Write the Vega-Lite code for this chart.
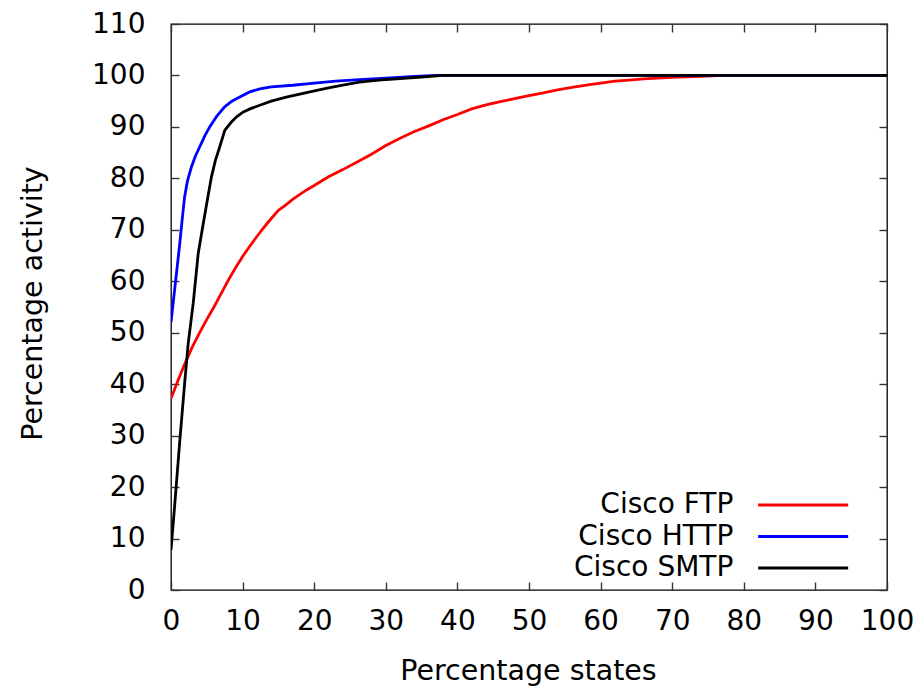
{
  "$schema": "https://vega.github.io/schema/vega-lite/v6.json",
  "width": 716,
  "height": 566,
  "autosize": "none",
  "padding": {"left": 171, "top": 24, "right": 36, "bottom": 96},
  "background": "white",
  "config": {
    "view": {"stroke": "#000000", "strokeWidth": 1.3},
    "font": "DejaVu Sans",
    "axis": {
      "labelFont": "DejaVu Sans",
      "labelFontSize": 28,
      "labelColor": "#000000",
      "labelFlush": false,
      "labelOverlap": false,
      "titleFont": "DejaVu Sans",
      "titleFontSize": 28.5,
      "titleFontWeight": "normal",
      "titleColor": "#000000",
      "domain": false,
      "grid": false,
      "tickColor": "#333333",
      "tickWidth": 1.4,
      "tickSize": 8
    },
    "legend": {
      "labelFont": "DejaVu Sans",
      "labelFontSize": 28,
      "labelColor": "#000000"
    }
  },
  "datasets": {
    "curves": [
      {"series": "Cisco FTP", "x": 0, "y": 37.2},
      {"series": "Cisco FTP", "x": 1, "y": 40.8},
      {"series": "Cisco FTP", "x": 2, "y": 44.2},
      {"series": "Cisco FTP", "x": 3, "y": 47.3},
      {"series": "Cisco FTP", "x": 4, "y": 50.0},
      {"series": "Cisco FTP", "x": 5, "y": 52.6},
      {"series": "Cisco FTP", "x": 6, "y": 55.0},
      {"series": "Cisco FTP", "x": 7, "y": 57.6},
      {"series": "Cisco FTP", "x": 8, "y": 60.2},
      {"series": "Cisco FTP", "x": 9, "y": 62.6},
      {"series": "Cisco FTP", "x": 10, "y": 64.8},
      {"series": "Cisco FTP", "x": 11, "y": 66.8},
      {"series": "Cisco FTP", "x": 12, "y": 68.7},
      {"series": "Cisco FTP", "x": 13, "y": 70.5},
      {"series": "Cisco FTP", "x": 14, "y": 72.2},
      {"series": "Cisco FTP", "x": 15, "y": 73.8},
      {"series": "Cisco FTP", "x": 16, "y": 74.8},
      {"series": "Cisco FTP", "x": 17, "y": 75.9},
      {"series": "Cisco FTP", "x": 18, "y": 76.9},
      {"series": "Cisco FTP", "x": 19, "y": 77.8},
      {"series": "Cisco FTP", "x": 20, "y": 78.6},
      {"series": "Cisco FTP", "x": 22, "y": 80.3},
      {"series": "Cisco FTP", "x": 24, "y": 81.7},
      {"series": "Cisco FTP", "x": 26, "y": 83.2},
      {"series": "Cisco FTP", "x": 28, "y": 84.7},
      {"series": "Cisco FTP", "x": 30, "y": 86.4},
      {"series": "Cisco FTP", "x": 32, "y": 87.8},
      {"series": "Cisco FTP", "x": 34, "y": 89.1},
      {"series": "Cisco FTP", "x": 36, "y": 90.2},
      {"series": "Cisco FTP", "x": 38, "y": 91.4},
      {"series": "Cisco FTP", "x": 40, "y": 92.4},
      {"series": "Cisco FTP", "x": 42, "y": 93.5},
      {"series": "Cisco FTP", "x": 44, "y": 94.3},
      {"series": "Cisco FTP", "x": 46, "y": 94.9},
      {"series": "Cisco FTP", "x": 48, "y": 95.5},
      {"series": "Cisco FTP", "x": 50, "y": 96.1},
      {"series": "Cisco FTP", "x": 52, "y": 96.6},
      {"series": "Cisco FTP", "x": 54, "y": 97.2},
      {"series": "Cisco FTP", "x": 56, "y": 97.7},
      {"series": "Cisco FTP", "x": 58, "y": 98.1},
      {"series": "Cisco FTP", "x": 60, "y": 98.5},
      {"series": "Cisco FTP", "x": 62, "y": 98.9},
      {"series": "Cisco FTP", "x": 64, "y": 99.1},
      {"series": "Cisco FTP", "x": 66, "y": 99.35},
      {"series": "Cisco FTP", "x": 68, "y": 99.5},
      {"series": "Cisco FTP", "x": 70, "y": 99.65},
      {"series": "Cisco FTP", "x": 72, "y": 99.75},
      {"series": "Cisco FTP", "x": 74, "y": 99.85},
      {"series": "Cisco FTP", "x": 77, "y": 100},
      {"series": "Cisco FTP", "x": 100, "y": 100},

      {"series": "Cisco HTTP", "x": 0, "y": 52},
      {"series": "Cisco HTTP", "x": 0.4, "y": 57},
      {"series": "Cisco HTTP", "x": 0.8, "y": 62},
      {"series": "Cisco HTTP", "x": 1.2, "y": 67},
      {"series": "Cisco HTTP", "x": 1.6, "y": 72.5},
      {"series": "Cisco HTTP", "x": 1.9, "y": 76.4},
      {"series": "Cisco HTTP", "x": 2.3, "y": 79.5},
      {"series": "Cisco HTTP", "x": 2.85, "y": 82.2},
      {"series": "Cisco HTTP", "x": 3.4, "y": 84.3},
      {"series": "Cisco HTTP", "x": 4.0, "y": 86.1},
      {"series": "Cisco HTTP", "x": 4.7, "y": 88.2},
      {"series": "Cisco HTTP", "x": 5.4, "y": 90.0},
      {"series": "Cisco HTTP", "x": 6.4, "y": 92.1},
      {"series": "Cisco HTTP", "x": 7.5, "y": 93.9},
      {"series": "Cisco HTTP", "x": 8.5, "y": 95.0},
      {"series": "Cisco HTTP", "x": 9.6, "y": 95.8},
      {"series": "Cisco HTTP", "x": 11, "y": 96.8},
      {"series": "Cisco HTTP", "x": 12.4, "y": 97.4},
      {"series": "Cisco HTTP", "x": 14, "y": 97.8},
      {"series": "Cisco HTTP", "x": 17, "y": 98.1},
      {"series": "Cisco HTTP", "x": 20, "y": 98.5},
      {"series": "Cisco HTTP", "x": 23, "y": 98.9},
      {"series": "Cisco HTTP", "x": 26.3, "y": 99.2},
      {"series": "Cisco HTTP", "x": 30, "y": 99.5},
      {"series": "Cisco HTTP", "x": 34, "y": 99.8},
      {"series": "Cisco HTTP", "x": 37, "y": 100},
      {"series": "Cisco HTTP", "x": 100, "y": 100},

      {"series": "Cisco SMTP", "x": 0, "y": 7.8},
      {"series": "Cisco SMTP", "x": 0.5, "y": 16.2},
      {"series": "Cisco SMTP", "x": 1.2, "y": 28.5},
      {"series": "Cisco SMTP", "x": 1.9, "y": 40.1},
      {"series": "Cisco SMTP", "x": 2.4, "y": 47.9},
      {"series": "Cisco SMTP", "x": 3.1, "y": 55.7},
      {"series": "Cisco SMTP", "x": 3.8, "y": 65.4},
      {"series": "Cisco SMTP", "x": 4.5, "y": 71.2},
      {"series": "Cisco SMTP", "x": 5.1, "y": 76.0},
      {"series": "Cisco SMTP", "x": 5.65, "y": 80.3},
      {"series": "Cisco SMTP", "x": 6.2, "y": 83.5},
      {"series": "Cisco SMTP", "x": 6.8, "y": 86.1},
      {"series": "Cisco SMTP", "x": 7.5, "y": 89.3},
      {"series": "Cisco SMTP", "x": 8.4, "y": 90.9},
      {"series": "Cisco SMTP", "x": 9.2, "y": 92.0},
      {"series": "Cisco SMTP", "x": 10.1, "y": 92.9},
      {"series": "Cisco SMTP", "x": 11.2, "y": 93.6},
      {"series": "Cisco SMTP", "x": 12.4, "y": 94.2},
      {"series": "Cisco SMTP", "x": 14, "y": 95.0},
      {"series": "Cisco SMTP", "x": 16.1, "y": 95.8},
      {"series": "Cisco SMTP", "x": 19.4, "y": 96.8},
      {"series": "Cisco SMTP", "x": 22, "y": 97.6},
      {"series": "Cisco SMTP", "x": 24, "y": 98.1},
      {"series": "Cisco SMTP", "x": 26.3, "y": 98.7},
      {"series": "Cisco SMTP", "x": 29, "y": 99.1},
      {"series": "Cisco SMTP", "x": 32, "y": 99.4},
      {"series": "Cisco SMTP", "x": 35, "y": 99.7},
      {"series": "Cisco SMTP", "x": 38, "y": 100},
      {"series": "Cisco SMTP", "x": 100, "y": 100}
    ]
  },
  "data": {"name": "curves"},
  "layer": [
    {
      "mark": {"type": "line", "opacity": 0},
      "encoding": {
        "x": {"field": "x", "type": "quantitative",
              "scale": {"domain": [0, 100], "nice": false, "zero": false},
              "axis": {"orient": "top", "labels": false, "title": null, "offset": -8, "values": [0,10,20,30,40,50,60,70,80,90,100]}},
        "y": {"field": "y", "type": "quantitative",
              "scale": {"domain": [0, 110], "nice": false, "zero": false},
              "axis": {"orient": "right", "labels": false, "title": null, "offset": -8, "values": [0,10,20,30,40,50,60,70,80,90,100,110]}},
        "detail": {"field": "series"}
      }
    },
    {
      "mark": {"type": "line", "opacity": 0},
      "encoding": {
        "x": {"field": "x", "type": "quantitative",
              "scale": {"domain": [0, 100], "nice": false, "zero": false},
              "axis": {"orient": "bottom", "labels": false, "title": null, "offset": -8, "values": [0,10,20,30,40,50,60,70,80,90,100]}},
        "y": {"field": "y", "type": "quantitative",
              "scale": {"domain": [0, 110], "nice": false, "zero": false},
              "axis": {"orient": "left", "labels": false, "title": null, "offset": -8, "values": [0,10,20,30,40,50,60,70,80,90,100,110]}},
        "detail": {"field": "series"}
      }
    },
    {
      "mark": {"type": "line", "strokeWidth": 2.8, "clip": true},
      "encoding": {
        "x": {"field": "x", "type": "quantitative",
              "scale": {"domain": [0, 100], "nice": false, "zero": false},
              "axis": {"orient": "bottom", "title": "Percentage states", "values": [0,10,20,30,40,50,60,70,80,90,100],
                       "ticks": false, "tickSize": 0, "offset": 0,
                       "labelPadding": 17, "titleX": 357, "titleY": 89, "titleBaseline": "alphabetic", "titleAlign": "center"}},
        "y": {"field": "y", "type": "quantitative",
              "scale": {"domain": [0, 110], "nice": false, "zero": false},
              "axis": {"orient": "left", "title": "Percentage activity", "values": [0,10,20,30,40,50,60,70,80,90,100,110],
                       "ticks": false, "tickSize": 0, "offset": 0,
                       "labelPadding": 26, "titleX": -139, "titleY": 279, "titleAngle": -90, "titleBaseline": "middle", "titleAlign": "center"}},
        "color": {"field": "series", "type": "nominal",
                  "scale": {"domain": ["Cisco FTP", "Cisco HTTP", "Cisco SMTP"], "range": ["#ff0000", "#0000ff", "#000000"]},
                  "legend": {"title": null, "orient": "none", "legendX": 615.65, "legendY": 464.5,
                             "symbolType": "M-3,0H3", "symbolSize": 900, "symbolStrokeWidth": 2.8,
                             "labelAlign": "right", "labelOffset": -86.35, "rowPadding": 0.5, "padding": 0}}
      }
    }
  ],
  "resolve": {"scale": {"x": "independent", "y": "independent"}, "axis": {"x": "independent", "y": "independent"}}
}
